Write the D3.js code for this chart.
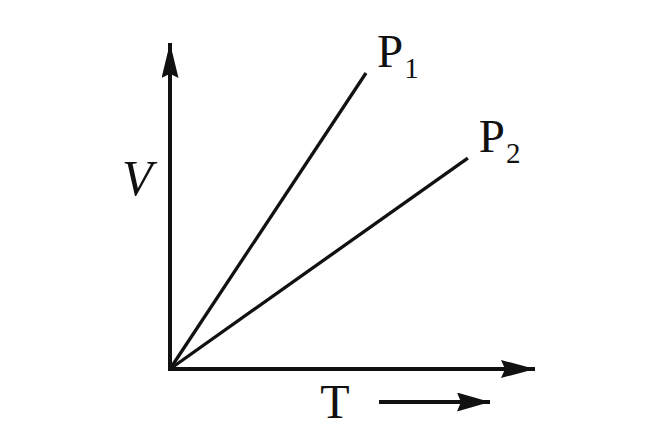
<!DOCTYPE html>
<html>
<head>
<meta charset="utf-8">
<script src="https://cdn.jsdelivr.net/npm/d3@7"></script>
<style>
  body { margin: 0; background: #fff; }
  svg { display: block; }
</style>
</head>
<body>
<div id="chart"></div>
<script>
// isobars on a V-T diagram: each line goes from the origin to its end point
const seriesNames = ["P1", "P2"];
const endT = [5.37, 8.16];
const endV = [9.08, 6.47];
const axisLabels = { x: "T", y: "V" };

const width = 656, height = 448;
const origin = { x: 170, y: 369 };
const serif = "'Liberation Serif'";

const svg = d3.select("#chart").append("svg")
  .attr("width", width)
  .attr("height", height);

const x = d3.scaleLinear().domain([0, 10]).range([origin.x, 535]);
const y = d3.scaleLinear().domain([0, 10]).range([origin.y, 43]);

// arrowheads, tip at the path end
const defs = svg.append("defs");
function arrow(id, len, w) {
  defs.append("marker")
    .attr("id", id)
    .attr("markerUnits", "userSpaceOnUse")
    .attr("viewBox", `0 ${-w / 2} ${len} ${w}`)
    .attr("refX", len).attr("refY", 0)
    .attr("markerWidth", len).attr("markerHeight", w)
    .attr("orient", "auto")
    .append("path")
      .attr("d", `M0,${-w / 2}L${len},0L0,${w / 2}L${len * 0.12},0Z`)
      .attr("fill", "#111");
}
arrow("headY", 35, 17);
arrow("headX", 34, 18);
arrow("headS", 33, 19);

// axes
svg.append("line")
  .attr("x1", x(0)).attr("y1", y(0) + 2)
  .attr("x2", x(0)).attr("y2", y(10))
  .attr("stroke", "#111").attr("stroke-width", 4)
  .attr("marker-end", "url(#headY)");

svg.append("line")
  .attr("x1", x(0) - 2).attr("y1", y(0))
  .attr("x2", x(10)).attr("y2", y(0))
  .attr("stroke", "#111").attr("stroke-width", 4)
  .attr("marker-end", "url(#headX)");

// lines
const data = seriesNames.map((name, i) => ({ name, t: endT[i], v: endV[i] }));

svg.selectAll("line.iso")
  .data(data)
  .join("line")
    .attr("class", "iso")
    .attr("x1", x(0)).attr("y1", y(0))
    .attr("x2", d => x(d.t)).attr("y2", d => y(d.v))
    .attr("stroke", "#111")
    .attr("stroke-width", 3.3);

// series labels: P with subscript
const lbl = svg.selectAll("text.lbl")
  .data(data)
  .join("text")
    .attr("class", "lbl")
    .attr("x", d => x(d.t) + 11)
    .attr("y", d => y(d.v) - 6)
    .style("font-family", serif)
    .attr("font-size", 47)
    .attr("fill", "#111");

lbl.append("tspan")
  .text(d => d.name[0]);

lbl.append("tspan")
  .attr("dx", 1).attr("dy", 11)
  .attr("font-size", 29)
  .text(d => d.name.slice(1));

// axis labels
svg.append("text")
  .attr("x", 122).attr("y", 195)
  .style("font-family", serif)
  .attr("font-size", 50)
  .attr("font-style", "italic")
  .attr("fill", "#111")
  .text(axisLabels.y);

svg.append("text")
  .attr("x", 335).attr("y", 418)
  .attr("text-anchor", "middle")
  .style("font-family", serif)
  .attr("font-size", 48)
  .attr("fill", "#111")
  .text(axisLabels.x);

// direction arrow under T
svg.append("line")
  .attr("x1", 379).attr("y1", 402)
  .attr("x2", 490).attr("y2", 402)
  .attr("stroke", "#111").attr("stroke-width", 4)
  .attr("marker-end", "url(#headS)");
</script>
</body>
</html>
